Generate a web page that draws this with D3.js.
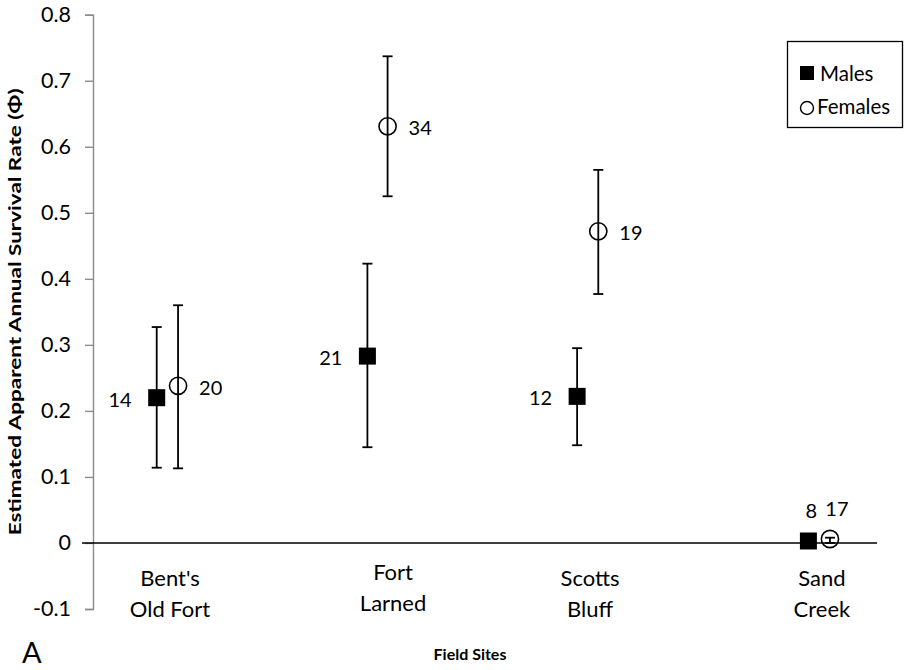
<!DOCTYPE html>
<html>
<head>
<meta charset="utf-8">
<script src="https://cdn.jsdelivr.net/npm/d3@7"></script>
<style>
  html, body { margin: 0; padding: 0; background: #fff; }
  svg { display: block; font-family: Lato, "Open Sans", sans-serif; }
</style>
</head>
<body>
<svg id="chart" width="906" height="670"></svg>
<script>
// Field sites (two-line labels) and survival estimates with 95% limits
const sites = [["Bent's", "Old Fort"], ["Fort", "Larned"], ["Scotts", "Bluff"], ["Sand", "Creek"]];

// Scatter x-values for each series (sites sit along a 0–4 axis)
const maleX   = [0.325, 1.40, 2.47, 3.65];
const femaleX = [0.434, 1.503, 2.578, 3.76];

const maleRate  = [0.220, 0.283, 0.222, 0.003];
const maleLow   = [0.114, 0.145, 0.148, 0.000];
const maleHigh  = [0.327, 0.423, 0.295, 0.006];
const maleN     = [14, 21, 12, 8];

const femaleRate = [0.238, 0.631, 0.472, 0.006];
const femaleLow  = [0.113, 0.525, 0.377, 0.000];
const femaleHigh = [0.360, 0.737, 0.565, 0.008];
const femaleN    = [20, 34, 19, 17];

const yTicks = [-0.1, 0, 0.1, 0.2, 0.3, 0.4, 0.5, 0.6, 0.7, 0.8];
const yTickLabels = ["-0.1", "0", "0.1", "0.2", "0.3", "0.4", "0.5", "0.6", "0.7", "0.8"];

const svg = d3.select("#chart");

const x = d3.scaleLinear().domain([0, 4]).range([93, 877]);
const y = d3.scaleLinear().domain([-0.1, 0.8]).range([609, 14.7]);

// Y axis (grey, outward ticks)
const yAxis = svg.append("g")
  .attr("transform", `translate(${x(0)},0)`)
  .call(d3.axisLeft(y).tickValues(yTicks).tickSize(8).tickPadding(14)
    .tickFormat((d, i) => yTickLabels[i]));
yAxis.select(".domain").attr("stroke", "#8c8c8c").attr("stroke-width", 1.4);
yAxis.selectAll(".tick line").attr("stroke", "#8c8c8c").attr("stroke-width", 1.4);
yAxis.selectAll(".tick text")
  .attr("font-family", "Lato, sans-serif").attr("font-size", 21.5).attr("fill", "#000");

// Zero line across the plot
svg.append("line")
  .attr("x1", x(0) - 11).attr("x2", x(4))
  .attr("y1", y(0)).attr("y2", y(0))
  .attr("stroke", "#000").attr("stroke-width", 1.6);

// Build point records for both series
const males = maleRate.map((v, i) => ({ x: maleX[i], v, lo: maleLow[i], hi: maleHigh[i], n: maleN[i], sex: "m" }));
const females = femaleRate.map((v, i) => ({ x: femaleX[i], v, lo: femaleLow[i], hi: femaleHigh[i], n: femaleN[i], sex: "f" }));
const pts = males.concat(females);

// Error bars
const capW = 5;
const eb = svg.append("g").attr("stroke", "#000").attr("stroke-width", 1.8);
pts.forEach(d => {
  const cx = x(d.x);
  eb.append("line").attr("x1", cx).attr("x2", cx).attr("y1", y(d.lo)).attr("y2", y(d.hi));
  eb.append("line").attr("x1", cx - capW).attr("x2", cx + capW).attr("y1", y(d.hi)).attr("y2", y(d.hi));
  eb.append("line").attr("x1", cx - capW).attr("x2", cx + capW).attr("y1", y(d.lo)).attr("y2", y(d.lo));
});

// Markers
const sq = 17;
svg.append("g").selectAll("rect").data(males).join("rect")
  .attr("x", d => x(d.x) - sq / 2).attr("y", d => y(d.v) - sq / 2)
  .attr("width", sq).attr("height", sq).attr("fill", "#000");

svg.append("g").selectAll("circle").data(females).join("circle")
  .attr("cx", d => x(d.x)).attr("cy", d => y(d.v)).attr("r", 8.6)
  .attr("fill", "none").attr("stroke", "#000").attr("stroke-width", 1.6);

// Sample-size labels: males to the left, females to the right, near-zero points above
const lab = svg.append("g").attr("font-size", 20).attr("fill", "#000");
pts.forEach(d => {
  const cx = x(d.x), cy = y(d.v);
  const t = lab.append("text").text(d.n).attr("dominant-baseline", "central");
  if (d.v < 0.05) {
    t.attr("x", cx + (d.sex === "m" ? 3 : 7)).attr("y", cy - 31).attr("text-anchor", "middle");
  } else if (d.sex === "m") {
    t.attr("x", cx - 25).attr("y", cy + 1).attr("text-anchor", "end");
  } else {
    t.attr("x", cx + 21).attr("y", cy + 1).attr("text-anchor", "start");
  }
});

// Site labels placed as free text boxes along the x axis
const siteLabelAt = [0.393, 1.531, 2.536, 3.719];
const siteG = svg.append("g").attr("font-size", 22).attr("text-anchor", "middle").attr("fill", "#000");
sites.forEach((lines, i) => {
  const lift = i === 1 ? -6 : 0;
  lines.forEach((s, j) => {
    siteG.append("text").attr("x", x(siteLabelAt[i])).attr("y", 586 + lift + j * 31).text(s);
  });
});

// Axis titles
svg.append("text")
  .attr("transform", `translate(21,${(y(0.8) + y(-0.1)) / 2}) rotate(-90)`)
  .attr("text-anchor", "middle").attr("font-weight", "bold").attr("font-size", 17.5)
  .attr("textLength", 447).attr("lengthAdjust", "spacingAndGlyphs")
  .text("Estimated Apparent Annual Survival Rate (Φ)");

svg.append("text")
  .attr("x", 470).attr("y", 660).attr("text-anchor", "middle")
  .attr("font-weight", "bold").attr("font-size", 16).text("Field Sites");

// Panel letter
svg.append("text").attr("x", 22).attr("y", 663).attr("font-size", 29).text("A");

// Legend
const lg = svg.append("g");
lg.append("rect").attr("x", 787.5).attr("y", 41.5).attr("width", 115).attr("height", 86)
  .attr("fill", "#fff").attr("stroke", "#000").attr("stroke-width", 1.3);
lg.append("rect").attr("x", 800).attr("y", 66).attr("width", 14).attr("height", 14).attr("fill", "#000");
lg.append("text").attr("x", 820).attr("y", 81).attr("font-size", 20.5).text("Males");
lg.append("circle").attr("cx", 807).attr("cy", 108).attr("r", 6.5)
  .attr("fill", "none").attr("stroke", "#000").attr("stroke-width", 1.4);
lg.append("text").attr("x", 817).attr("y", 114).attr("font-size", 20.5).text("Females");
</script>
</body>
</html>
